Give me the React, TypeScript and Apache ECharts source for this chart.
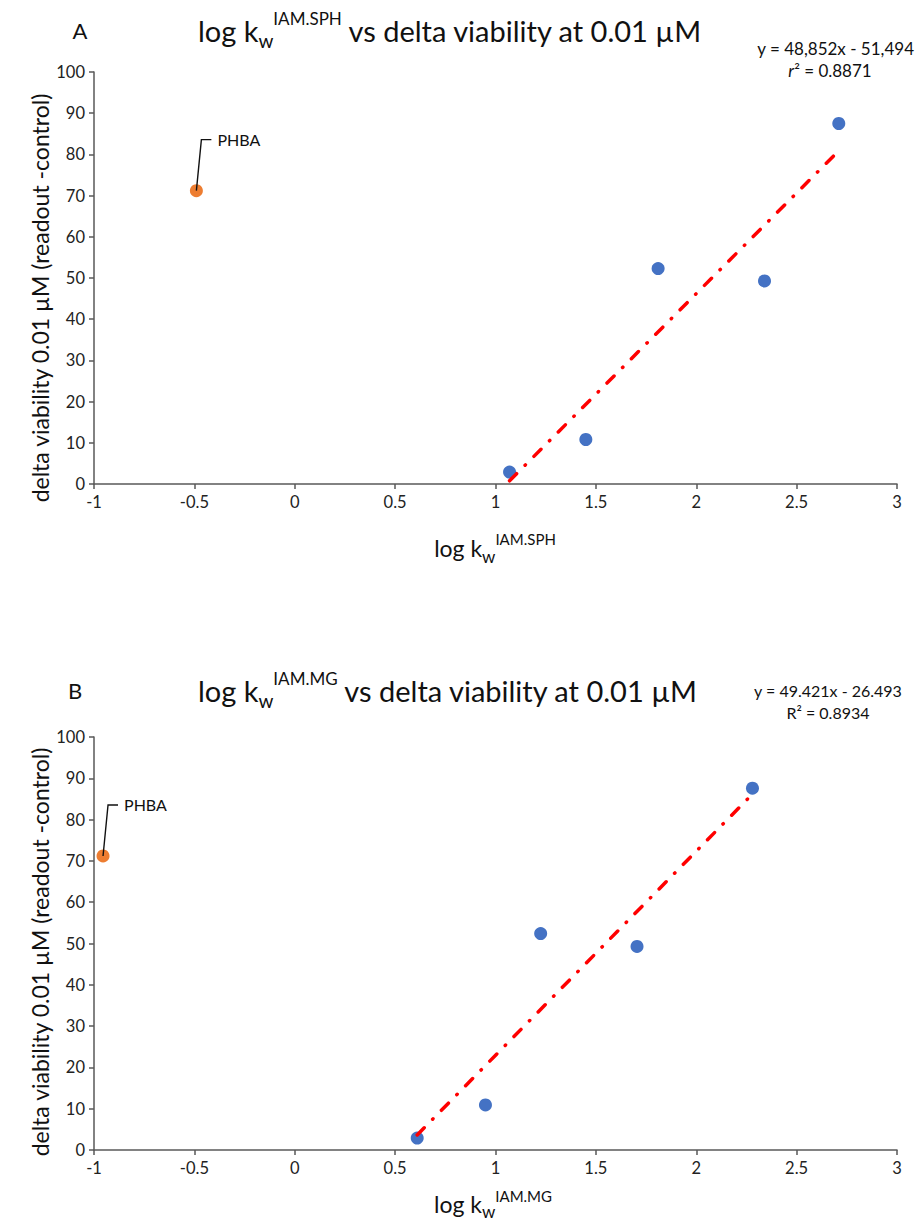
import React, { useEffect, useRef } from "react";
import * as echarts from "echarts";

// Panel A: log kw IAM.SPH vs delta viability
const aLogKw = [1.07, 1.45, 1.81, 2.34, 2.71];
const aViability = [2.9, 10.8, 52.3, 49.3, 87.5];
const aPhba = [-0.49, 71.2];
const aSlope = 48.852;
const aIntercept = -51.494;

// Panel B: log kw IAM.MG vs delta viability
const bLogKw = [0.61, 0.95, 1.225, 1.705, 2.28];
const bViability = [2.9, 10.9, 52.4, 49.3, 87.6];
const bPhba = [-0.955, 71.2];
const bSlope = 49.421;
const bIntercept = -26.493;

const xMin = -1;
const xMax = 3;
const xStep = 0.5;
const yMin = 0;
const yMax = 100;
const yStep = 10;

const FONT = "Lato, 'Open Sans', sans-serif";

export default function App() {
  const ref = useRef<HTMLDivElement>(null);

  useEffect(() => {
    document.body.style.margin = "0";
    const chart = echarts.init(ref.current!, null, { renderer: "svg" });

    const axisLineStyle = { color: "#595959", width: 1.5 };
    const mkX = (gi: number) => ({
      type: "value",
      gridIndex: gi,
      min: xMin,
      max: xMax,
      interval: xStep,
      axisLine: { show: true, onZero: false, lineStyle: axisLineStyle },
      axisTick: { show: true, length: 5, lineStyle: axisLineStyle },
      splitLine: { show: false },
      axisLabel: { fontSize: 16.5, color: "#222", margin: 9, fontFamily: FONT },
    });
    const mkY = (gi: number) => ({
      type: "value",
      gridIndex: gi,
      min: yMin,
      max: yMax,
      interval: yStep,
      axisLine: { show: true, onZero: false, lineStyle: axisLineStyle },
      axisTick: { show: true, length: 5, lineStyle: axisLineStyle },
      splitLine: { show: false },
      axisLabel: { fontSize: 16.5, color: "#222", margin: 9, fontFamily: FONT },
    });

    const zip = (xs: number[], ys: number[]) => xs.map((x, i) => [x, ys[i]]);
    const trend = (xs: number[], m: number, c: number) => {
      const lo = Math.min(...xs);
      const hi = Math.max(...xs);
      return [
        [lo, m * lo + c],
        [hi, m * hi + c],
      ];
    };

    const mkSeries = (gi: number, xs: number[], ys: number[], phba: number[], m: number, c: number) => [
      {
        type: "scatter",
        xAxisIndex: gi,
        yAxisIndex: gi,
        data: zip(xs, ys),
        symbolSize: 13,
        itemStyle: { color: "#4472C4", opacity: 1 },
        z: 2,
      },
      {
        type: "scatter",
        xAxisIndex: gi,
        yAxisIndex: gi,
        data: [phba],
        symbolSize: 13,
        itemStyle: { color: "#ED7D31", opacity: 1 },
        z: 2,
      },
      {
        type: "line",
        xAxisIndex: gi,
        yAxisIndex: gi,
        data: trend(xs, m, c),
        showSymbol: false,
        symbol: "none",
        lineStyle: { color: "#FF0000", width: 3.5, type: [10, 12, 0.5, 12], cap: "round" },
        z: 3,
      },
    ];

    chart.setOption({
      animation: false,
      backgroundColor: "#fff",
      grid: [
        { left: 94, right: 22, top: 72, height: 412 },
        { left: 94, right: 22, top: 737, height: 413 },
      ],
      xAxis: [mkX(0), mkX(1)],
      yAxis: [mkY(0), mkY(1)],
      series: [
        ...mkSeries(0, aLogKw, aViability, aPhba, aSlope, aIntercept),
        ...mkSeries(1, bLogKw, bViability, bPhba, bSlope, bIntercept),
      ],
    });

    const titleRich = (main: number, sub: number, sup: number, lh: number) => ({
      m: { fontSize: main, fontFamily: FONT, color: "#111", lineHeight: lh },
      sub: { fontSize: sub, fontFamily: FONT, color: "#111", lineHeight: Math.round(sub * 0.8), verticalAlign: "bottom" },
      sup: { fontSize: sup, fontFamily: FONT, color: "#111", lineHeight: Math.round(sup * 0.9), verticalAlign: "top" },
    });

    const text = (x: number, y: number, t: string, opts: any = {}) => ({
      type: "text",
      x,
      y,
      rotation: opts.rotation || 0,
      style: {
        text: t,
        fontSize: opts.fontSize || 15,
        fontFamily: FONT,
        fill: "#111",
        fontStyle: opts.fontStyle || "normal",
        align: opts.align || "center",
        verticalAlign: "middle",
        rich: opts.rich,
      },
    });

    const pa = chart.convertToPixel({ xAxisIndex: 0, yAxisIndex: 0 }, aPhba) as number[];
    const pb = chart.convertToPixel({ xAxisIndex: 1, yAxisIndex: 1 }, bPhba) as number[];
    const leader = (p: number[]) => [
      {
        type: "polyline",
        shape: { points: [[p[0], p[1]], [p[0] + 5, p[1] - 51], [p[0] + 15, p[1] - 51]] },
        style: { stroke: "#111", lineWidth: 1.4, fill: null },
        z: 10,
      },
      text(p[0] + 21, p[1] - 51, "PHBA", { align: "left", fontSize: 16 }),
    ];

    const yName = "delta viability 0.01 µM (readout -control)";

    chart.setOption({
      graphic: [
        text(80, 30, "A", { fontSize: 22 }),
        text(198, 30, "{m|log k}{sub|w}{sup|IAM.SPH}{m| vs delta viability at 0.01 µM}", {
          align: "left",
          rich: titleRich(29, 19, 17, 40),
        }),
        text(914, 48, "y = 48,852x - 51,494", { align: "right", fontSize: 17 }),
        text(830, 70, "{i|r}{n|² = 0.8871}", {
          rich: {
            i: { fontSize: 17, fontFamily: FONT, fontStyle: "italic", color: "#111" },
            n: { fontSize: 17, fontFamily: FONT, color: "#111" },
          },
        }),
        text(40, 298, yName, { fontSize: 23, rotation: Math.PI / 2 }),
        text(495, 548, "{m|log k}{sub|w}{sup|IAM.SPH}", { rich: titleRich(23, 17, 15, 34) }),
        ...leader(pa),

        text(75, 690, "B", { fontSize: 22 }),
        text(198, 690, "{m|log k}{sub|w}{sup|IAM.MG}{m| vs delta viability at 0.01 µM}", {
          align: "left",
          rich: titleRich(29, 19, 17, 40),
        }),
        text(828, 690, "y = 49.421x - 26.493", { fontSize: 16 }),
        text(828, 712, "R² = 0.8934", { fontSize: 16 }),
        text(40, 952, yName, { fontSize: 23, rotation: Math.PI / 2 }),
        text(493, 1204, "{m|log k}{sub|w}{sup|IAM.MG}", { rich: titleRich(23, 17, 15, 32) }),
        ...leader(pb),
      ],
    });

    return () => chart.dispose();
  }, []);

  return <div ref={ref} style={{ width: 919, height: 1226 }} />;
}
